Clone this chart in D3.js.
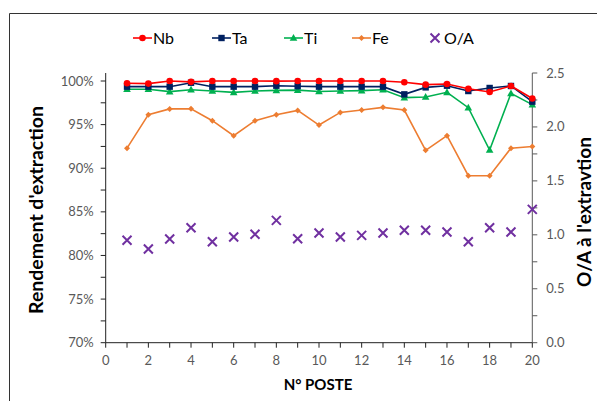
<!DOCTYPE html>
<html><head><meta charset="utf-8">
<script src="https://cdn.jsdelivr.net/npm/d3@7"></script>
<style>body{margin:0;background:#fff;}svg{display:block;font-family:Lato,"Open Sans",sans-serif;}</style>
</head><body>
<svg id="c" width="597" height="401"></svg>
<script>
const postes = [1,2,3,4,5,6,7,8,9,10,11,12,13,14,15,16,17,18,19,20];
const nb = [0.9974,0.9970,1.0000,0.9990,1.0000,1.0000,1.0000,0.9998,1.0000,1.0000,1.0000,1.0000,1.0000,0.9985,0.9958,0.9966,0.9912,0.9874,0.9943,0.9800];
const ta = [0.9935,0.9935,0.9935,0.9980,0.9935,0.9935,0.9935,0.9946,0.9940,0.9935,0.9935,0.9935,0.9935,0.9847,0.9927,0.9946,0.9885,0.9920,0.9943,0.9763];
const ti = [0.9905,0.9905,0.9878,0.9900,0.9885,0.9870,0.9885,0.9893,0.9895,0.9880,0.9885,0.9890,0.9900,0.9809,0.9817,0.9870,0.9694,0.9209,0.9858,0.9729];
const fe = [0.9230,0.9614,0.9680,0.9682,0.9545,0.9373,0.9545,0.9614,0.9663,0.9495,0.9640,0.9667,0.9698,0.9667,0.9205,0.9373,0.8914,0.8914,0.9230,0.9250];
const oa = [0.949,0.868,0.961,1.066,0.936,0.980,1.005,1.134,0.964,1.017,0.980,0.995,1.017,1.042,1.042,1.026,0.936,1.066,1.026,1.236];
const leftTicks = [0.70,0.75,0.80,0.85,0.90,0.95,1.00];
const rightTicks = [0,0.5,1.0,1.5,2.0,2.5];
const xTicks = [0,2,4,6,8,10,12,14,16,18,20];

const svg = d3.select("#c");
const x = d3.scaleLinear().domain([0,20]).range([105.7,532.3]);
const yL = d3.scaleLinear().domain([0.70,1.00]).range([342.7,81]);
const yR = d3.scaleLinear().domain([0,2.5]).range([342.7,73]);
const topY = 73;

// frame
svg.append("path").attr("d","M9.5,401V13.5H597").attr("fill","none").attr("stroke","#333").attr("stroke-width",1);

const tickCol = "#595959";
// left axis
const gL = svg.append("g").attr("transform",`translate(${x(0)},0)`);
gL.append("line").attr("y1",topY).attr("y2",yL(0.70)).attr("stroke","#222");
d3.range(0.70,1.001,0.025).forEach(v=>{
  gL.append("line").attr("x1",-5).attr("x2",0).attr("y1",yL(v)).attr("y2",yL(v)).attr("stroke","#222");
});
gL.selectAll("text.t").data(leftTicks).join("text").attr("class","t")
  .attr("x",-12).attr("y",d=>yL(d)).attr("dy","0.35em").attr("text-anchor","end")
  .attr("font-size",13).attr("fill",tickCol).text(d=>d3.format(".0%")(d));

// right axis
const gR = svg.append("g").attr("transform",`translate(${x(20)},0)`);
gR.append("line").attr("y1",topY).attr("y2",yR(0)).attr("stroke","#595959");
d3.range(0,2.501,0.25).forEach(v=>{
  gR.append("line").attr("x1",0).attr("x2",5).attr("y1",yR(v)).attr("y2",yR(v)).attr("stroke","#595959");
});
gR.selectAll("text.t").data(rightTicks).join("text").attr("class","t")
  .attr("x",14).attr("y",d=>yR(d)).attr("dy","0.35em").attr("text-anchor","start")
  .attr("font-size",13).attr("fill",tickCol).text(d=>d3.format(".1f")(d));

// x axis
const gX = svg.append("g").attr("transform",`translate(0,${yL(0.70)})`);
gX.append("line").attr("x1",x(0)).attr("x2",x(20)).attr("stroke","#222");
d3.range(0,21,1).forEach(v=>{
  gX.append("line").attr("x1",x(v)).attr("x2",x(v)).attr("y1",0).attr("y2",5).attr("stroke","#222");
});
gX.selectAll("text.t").data(xTicks).join("text").attr("class","t")
  .attr("x",d=>x(d)).attr("y",22).attr("text-anchor","middle")
  .attr("font-size",13).attr("fill",tickCol).text(d=>d);

// titles
svg.append("text").attr("transform","translate(36,210) rotate(-90)").attr("text-anchor","middle")
  .attr("dy","0.35em").attr("font-size",19.5).attr("font-weight","bold").attr("fill","#000").text("Rendement d'extraction");
svg.append("text").attr("transform","translate(584,212) rotate(-90)").attr("text-anchor","middle")
  .attr("dy","0.35em").attr("font-size",19).attr("font-weight","bold").attr("fill","#000").text("O/A à l'extravtion");
svg.append("text").attr("x",318).attr("y",390).attr("text-anchor","middle")
  .attr("font-size",15).attr("font-weight","bold").attr("fill","#000").text("N° POSTE");

// marker drawing
function marker(g, type, cx, cy, col){
  if(type==="circle") g.append("circle").attr("cx",cx).attr("cy",cy).attr("r",3.3).attr("fill",col);
  else if(type==="square") g.append("rect").attr("x",cx-3.2).attr("y",cy-3.2).attr("width",6.4).attr("height",6.4).attr("fill",col);
  else if(type==="triangle") g.append("path").attr("d",`M${cx},${cy-4}L${cx+3.8},${cy+2.8}L${cx-3.8},${cy+2.8}Z`).attr("fill",col);
  else if(type==="diamond") g.append("path").attr("d",`M${cx},${cy-3}L${cx+3},${cy}L${cx},${cy+3}L${cx-3},${cy}Z`).attr("fill",col);
  else if(type==="x") g.append("path").attr("d",`M${cx-4.5},${cy-4.5}L${cx+4.5},${cy+4.5}M${cx+4.5},${cy-4.5}L${cx-4.5},${cy+4.5}`).attr("stroke",col).attr("stroke-width",2);
}

const series = [
  {name:"Fe", vals:fe, col:"#ED7D31", m:"diamond"},
  {name:"Ti", vals:ti, col:"#00B050", m:"triangle"},
  {name:"Ta", vals:ta, col:"#002060", m:"square"},
  {name:"Nb", vals:nb, col:"#FF0000", m:"circle"}
];
const line = d3.line().x((d,i)=>x(postes[i])).y(d=>yL(d));
series.forEach(s=>{
  const g = svg.append("g");
  g.append("path").datum(s.vals).attr("d",line).attr("fill","none").attr("stroke",s.col).attr("stroke-width",1.6);
  s.vals.forEach((v,i)=>marker(g,s.m,x(postes[i]),yL(v),s.col));
});
const gO = svg.append("g");
oa.forEach((v,i)=>marker(gO,"x",x(postes[i]),yR(v),"#7030A0"));

// legend
const leg = [
  {name:"Nb", col:"#FF0000", m:"circle", x:133},
  {name:"Ta", col:"#002060", m:"square", x:212},
  {name:"Ti", col:"#00B050", m:"triangle", x:284},
  {name:"Fe", col:"#ED7D31", m:"diamond", x:352},
];
const ly = 38;
leg.forEach(l=>{
  const g = svg.append("g");
  g.append("line").attr("x1",l.x).attr("x2",l.x+19).attr("y1",ly).attr("y2",ly).attr("stroke",l.col).attr("stroke-width",1.6);
  marker(g,l.m,l.x+9.5,ly,l.col);
  g.append("text").attr("x",l.x+20).attr("y",ly).attr("dy","0.36em").attr("font-size",16).attr("fill","#000").text(l.name);
});
{
  const g = svg.append("g");
  marker(g,"x",435,ly,"#7030A0");
  g.append("text").attr("x",444).attr("y",ly).attr("dy","0.36em").attr("font-size",16).attr("fill","#000").text("O/A");
}
</script>
</body></html>
